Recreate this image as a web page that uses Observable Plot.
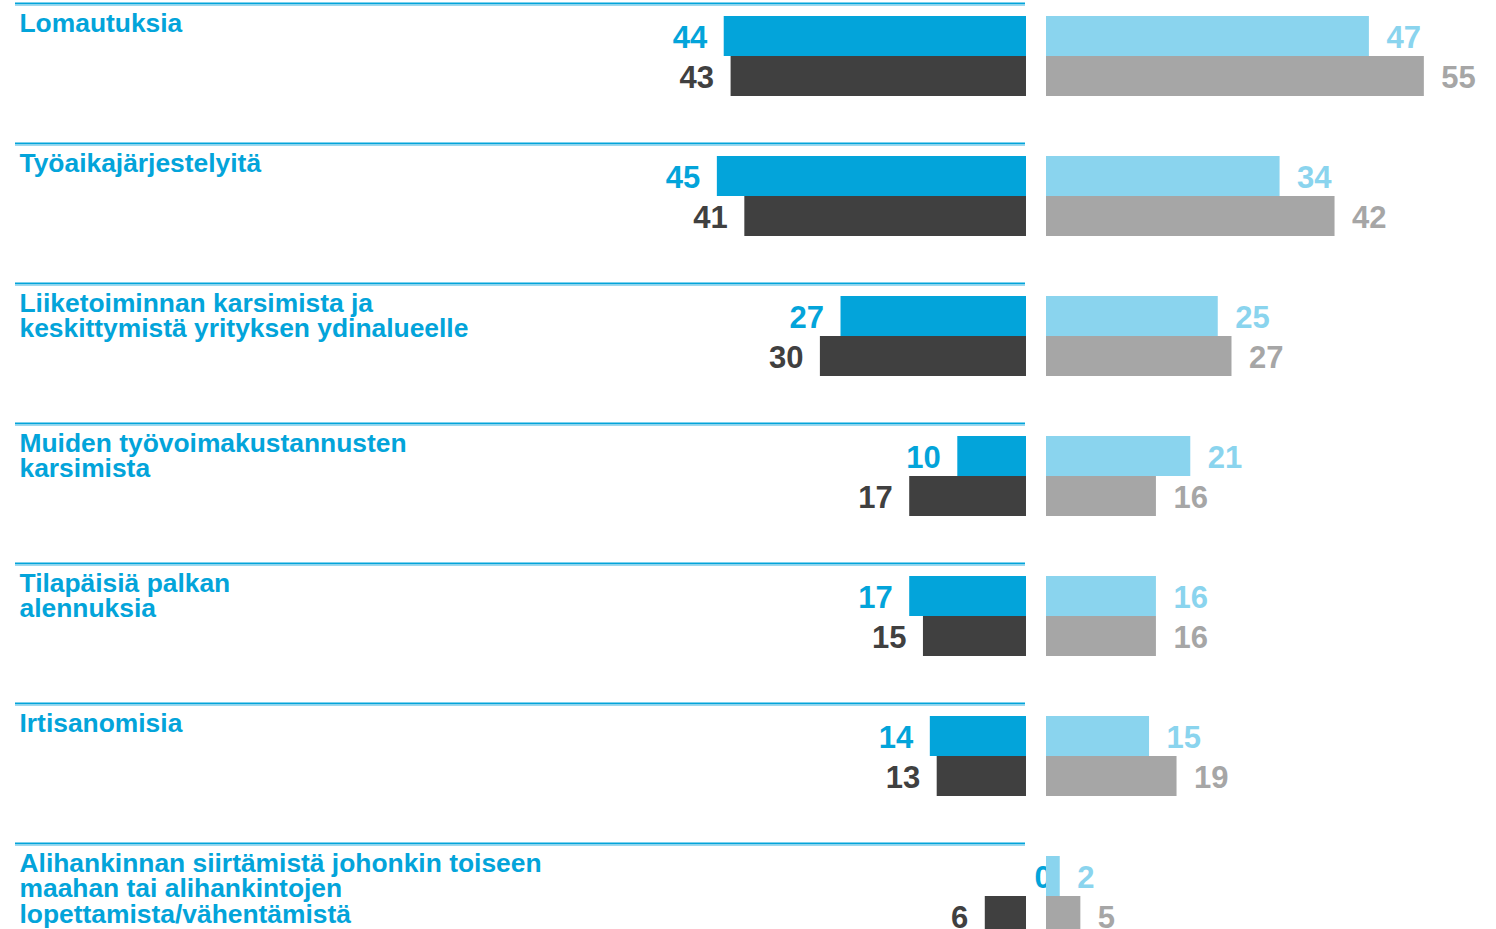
<!DOCTYPE html>
<html>
<head>
<meta charset="utf-8">
<script src="https://cdn.jsdelivr.net/npm/d3@7"></script>
<script src="https://cdn.jsdelivr.net/npm/@observablehq/plot@0.6"></script>
<style>
  html, body { margin: 0; padding: 0; background: #ffffff; overflow: hidden; }
  #chart { display: flex; width: 1496px; height: 929px; }
  #chart svg { overflow: visible; background: transparent; }
</style>
</head>
<body>
<div id="chart"></div>
<script>
const categories = [
  "Lomautuksia",
  "Työaikajärjestelyitä",
  "Liiketoiminnan karsimista ja\nkeskittymistä yrityksen ydinalueelle",
  "Muiden työvoimakustannusten\nkarsimista",
  "Tilapäisiä palkan\nalennuksia",
  "Irtisanomisia",
  "Alihankinnan siirtämistä johonkin toiseen\nmaahan tai alihankintojen\nlopettamista/vähentämistä"
];
const leftTop = [44, 45, 27, 10, 17, 14, 0];
const leftBottom = [43, 41, 30, 17, 15, 13, 6];
const rightTop = [47, 34, 25, 21, 16, 15, 2];
const rightBottom = [55, 42, 27, 16, 16, 19, 5];

const colBlue = "#03A4DA";
const colDark = "#404040";
const colLight = "#8AD4EE";
const colGray = "#A6A6A6";

const K = 6.87;          // px per unit
const maxV = 55;
const font = "Liberation Sans, Arial, sans-serif";

const rows = categories.map((c, i) => ({
  cat: c, lt: leftTop[i], lb: leftBottom[i], rt: rightTop[i], rb: rightBottom[i]
}));

const yScale = {domain: categories, range: [3, 983], padding: 0, axis: null};

const leftW = 1036, leftZero = 1026;
const left = Plot.plot({
  width: leftW, height: 929,
  marginLeft: 0, marginRight: 0, marginTop: 0, marginBottom: 0,
  x: {domain: [0, maxV], range: [leftZero, leftZero - maxV * K], axis: null},
  y: yScale,
  style: {fontFamily: font, background: "transparent", overflow: "visible"},
  marks: [
    Plot.ruleY(rows, {y: "cat", stroke: colBlue, strokeWidth: 2, dy: -70, insetLeft: 15, insetRight: 11}),
    Plot.ruleY(rows, {y: "cat", stroke: "#9ED9EF", strokeWidth: 1.5, dy: -68.2, insetLeft: 15, insetRight: 11}),
    Plot.text(rows, {y: "cat", text: "cat", frameAnchor: "left", dx: 19, dy: -60,
      lineAnchor: "top", textAnchor: "start", lineHeight: 0.97,
      fill: colBlue, fontSize: 26.4, fontWeight: "bold"}),
    Plot.barX(rows, {x: "lt", y: "cat", fill: colBlue, insetTop: 13, insetBottom: 87}),
    Plot.barX(rows, {x: "lb", y: "cat", fill: colDark, insetTop: 53, insetBottom: 47}),
    Plot.text(rows.filter(d => d.lt > 0), {x: "lt", y: "cat", text: d => String(d.lt), textAnchor: "end", dx: -17, dy: -35,
      lineAnchor: "middle", fill: colBlue, fontSize: 31, fontWeight: "bold"}),
    Plot.text(rows.filter(d => d.lt === 0), {x: "lt", y: "cat", text: d => String(d.lt), textAnchor: "start", dx: 8, dy: -35,
      lineAnchor: "middle", fill: colBlue, fontSize: 31, fontWeight: "bold"}),
    Plot.text(rows, {x: "lb", y: "cat", text: d => String(d.lb), textAnchor: "end", dx: -17, dy: 5,
      lineAnchor: "middle", fill: colDark, fontSize: 31, fontWeight: "bold"})
  ]
});

const rightW = 1496 - leftW, rightZero = 10;
const right = Plot.plot({
  width: rightW, height: 929,
  marginLeft: 0, marginRight: 0, marginTop: 0, marginBottom: 0,
  x: {domain: [0, maxV], range: [rightZero, rightZero + maxV * K], axis: null},
  y: yScale,
  style: {fontFamily: font, background: "transparent", overflow: "visible"},
  marks: [
    Plot.barX(rows, {x: "rt", y: "cat", fill: colLight, insetTop: 13, insetBottom: 87}),
    Plot.barX(rows, {x: "rb", y: "cat", fill: colGray, insetTop: 53, insetBottom: 47}),
    Plot.text(rows, {x: "rt", y: "cat", text: d => String(d.rt), textAnchor: "start", dx: 17, dy: -35,
      lineAnchor: "middle", fill: colLight, fontSize: 31, fontWeight: "bold"}),
    Plot.text(rows, {x: "rb", y: "cat", text: d => String(d.rb), textAnchor: "start", dx: 17, dy: 5,
      lineAnchor: "middle", fill: colGray, fontSize: 31, fontWeight: "bold"})
  ]
});

document.getElementById("chart").append(left, right);
</script>
</body>
</html>
